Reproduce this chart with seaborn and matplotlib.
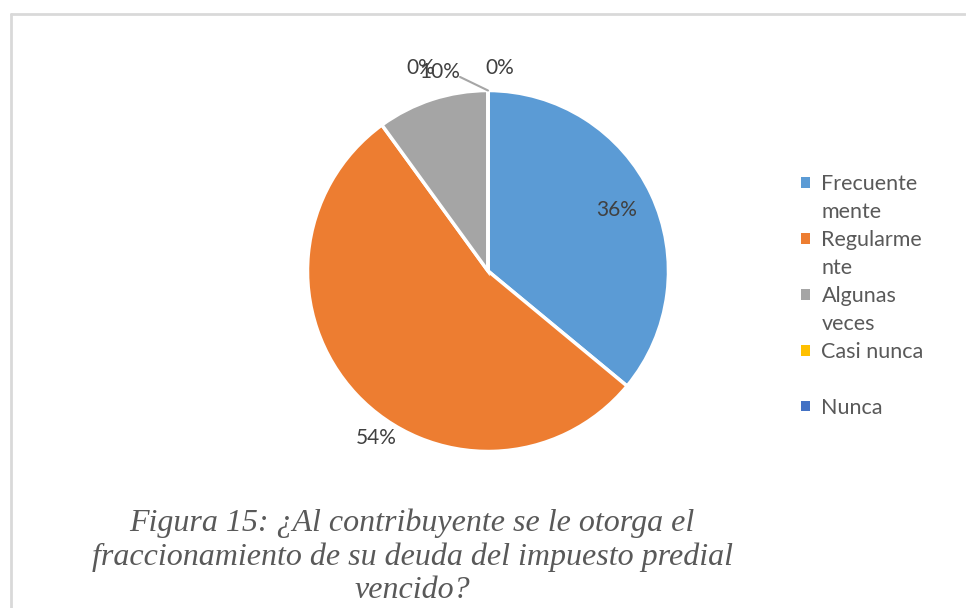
import matplotlib.pyplot as plt
import seaborn as sns
from matplotlib.lines import Line2D
from matplotlib.patches import Patch

categorias = ['Frecuentemente', 'Regularmente', 'Algunas veces', 'Casi nunca', 'Nunca']
# Excel corta las etiquetas de la leyenda en dos renglones
renglones_leyenda = [['Frecuente', 'mente'], ['Regularme', 'nte'], ['Algunas', 'veces'],
                     ['Casi nunca', ''], ['Nunca']]
porcentajes = [36, 54, 10, 0, 0]
colores = ['#5B9BD5', '#ED7D31', '#A5A5A5', '#FFC000', '#4472C4']
titulo = 'Figura 15: ¿Al contribuyente se le otorga el\nfraccionamiento de su deuda del impuesto predial\nvencido?'

sns.set_style('white')
plt.rcParams['font.family'] = ['Lato', 'DejaVu Sans']

W, H = 966, 608
fig = plt.figure(figsize=(W / 100, H / 100), dpi=100)

# ejes del pastel: centro (488, 271), radio 180.5 px
cx, cy, r = 488, 271, 180.5
ax = fig.add_axes([(cx - r) / W, 1 - (cy + r) / H, 2 * r / W, 2 * r / H])
wedges, textos, autotextos = ax.pie(
    porcentajes, colors=colores, startangle=90, counterclock=False,
    wedgeprops=dict(edgecolor='white', linewidth=2.5),
    autopct=lambda p: f'{p:.0f}%', pctdistance=0.79,
    textprops=dict(color='#404040', fontsize=15))
ax.set_xlim(-1, 1)
ax.set_ylim(-1, 1)
ax.set_aspect('equal')
ax.axis('off')

# posiciones de etiquetas (estilo Excel)
autotextos[1].set_position((-0.62, -0.925))
autotextos[2].set_position((-0.266, 1.10))
autotextos[3].set_position((-0.375, 1.125))
autotextos[4].set_position((0.064, 1.125))
ax.annotate('', xy=(0, 1.0), xytext=(-0.155, 1.075),
            arrowprops=dict(arrowstyle='-', color='#A6A6A6', lw=1.5,
                            shrinkA=0, shrinkB=0))

# leyenda: un renglon por fila, el segundo renglon sin marcador
manijas, etiquetas = [], []
for color, renglones in zip(colores, renglones_leyenda):
    for i, txt in enumerate(renglones):
        manijas.append(Patch(facecolor=color if i == 0 else 'none', edgecolor='none'))
        etiquetas.append(txt)
leg = fig.legend(manijas, etiquetas, loc='upper left',
                 bbox_to_anchor=(801 / W, 1 - 174 / H), frameon=False,
                 fontsize=15.5, handlelength=0.4, handleheight=0.4,
                 handletextpad=0.55, labelspacing=0.37,
                 borderpad=0, borderaxespad=0)
for t in leg.get_texts():
    t.set_color('#595959')

# titulo
fig.text(412 / W, 1 - 557 / H, titulo, ha='center', va='center',
         family='Liberation Serif', style='italic', fontsize=23,
         color='#595959', linespacing=1.2)

# borde
fig.add_artist(Line2D([10.5 / W, 10.5 / W], [0, 1 - 14 / H], color='#D9D9D9', lw=2))
fig.add_artist(Line2D([10.5 / W, 965 / W], [1 - 14 / H, 1 - 14 / H], color='#D9D9D9', lw=2))

fig.savefig('out.png', dpi=100)
